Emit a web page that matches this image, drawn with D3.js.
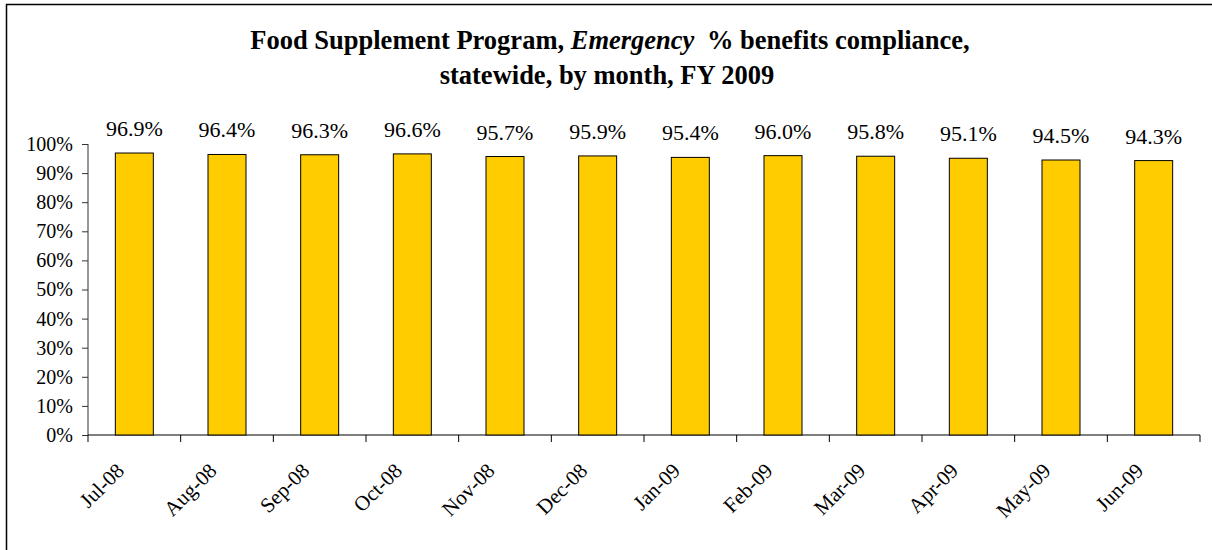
<!DOCTYPE html>
<html>
<head>
<meta charset="utf-8">
<script src="https://cdn.jsdelivr.net/npm/d3@7"></script>
<style>
  body { margin: 0; background: #fff; }
  text { font-family: "Liberation Serif", "Times New Roman", serif; }
</style>
</head>
<body>
<div id="chart-container"></div>
<script>
const months = ["Jul-08", "Aug-08", "Sep-08", "Oct-08", "Nov-08", "Dec-08",
                "Jan-09", "Feb-09", "Mar-09", "Apr-09", "May-09", "Jun-09"];
const compliance = [96.9, 96.4, 96.3, 96.6, 95.7, 95.9, 95.4, 96.0, 95.8, 95.1, 94.5, 94.3];
const yTicks = [0, 10, 20, 30, 40, 50, 60, 70, 80, 90, 100];

const svgWidth = 1212;
const svgHeight = 550;
const margin = { top: 144, right: 12, bottom: 115, left: 88 };
const width = svgWidth - margin.left - margin.right;
const height = svgHeight - margin.top - margin.bottom;

const svg = d3.select("#chart-container")
    .append("svg")
    .attr("width", svgWidth)
    .attr("height", svgHeight);

// outer frame (right and bottom edges run off the picture)
svg.append("rect")
    .attr("x", 6.5).attr("y", 4.5)
    .attr("width", 1250).attr("height", 600)
    .attr("fill", "none")
    .attr("stroke", "#000")
    .attr("stroke-width", 1.5);

// title
const title = svg.append("text")
    .attr("text-anchor", "middle")
    .attr("font-size", "26.5px")
    .attr("font-weight", "bold");
const line1 = title.append("tspan").attr("x", 610).attr("y", 49);
line1.append("tspan").text("Food Supplement Program, ");
line1.append("tspan").attr("font-style", "italic").text("Emergency");
line1.append("tspan").attr("dx", 6).text(" % benefits compliance,");
title.append("tspan").attr("x", 607).attr("y", 84).text("statewide, by month, FY 2009");

const chart = svg.append("g")
    .attr("transform", `translate(${margin.left},${margin.top})`);

const scaleX = d3.scaleBand()
    .domain(months)
    .range([0, width])
    .paddingInner(0.59)
    .paddingOuter(0.295);

const scaleY = d3.scaleLinear()
    .domain([0, 100])
    .range([height, 0]);

// y axis
const yAxis = chart.append("g")
    .call(d3.axisLeft(scaleY).tickValues(yTicks).tickSize(6).tickPadding(9)
        .tickFormat(d => d + "%"));
yAxis.select(".domain").attr("d", `M0,0V${height}`).attr("stroke", "#333");
yAxis.selectAll(".tick line").attr("stroke", "#333");
yAxis.selectAll("text").attr("font-size", "20px").attr("font-family", "Liberation Serif, serif");

// x axis: ticks between categories
const xAxis = chart.append("g").attr("transform", `translate(0,${height})`);
xAxis.append("line")
    .attr("x1", 0).attr("x2", width)
    .attr("stroke", "#000");
xAxis.selectAll(".xtick")
    .data(d3.range(months.length + 1))
    .enter()
    .append("line")
    .attr("class", "xtick")
    .attr("x1", i => i * scaleX.step())
    .attr("x2", i => i * scaleX.step())
    .attr("y1", 0).attr("y2", 7)
    .attr("stroke", "#000");
xAxis.selectAll(".xlabel")
    .data(months)
    .enter()
    .append("text")
    .attr("class", "xlabel")
    .attr("text-anchor", "end")
    .attr("font-size", "21px")
    .attr("transform", d => `translate(${scaleX(d) + scaleX.bandwidth() / 2 - 9},${37}) rotate(-45)`)
    .text(d => d);

// bars
chart.selectAll(".bar")
    .data(compliance)
    .enter()
    .append("rect")
    .attr("class", "bar")
    .attr("x", (d, i) => scaleX(months[i]))
    .attr("y", d => scaleY(d))
    .attr("width", scaleX.bandwidth())
    .attr("height", d => height - scaleY(d))
    .attr("fill", "#FFCC00")
    .attr("stroke", "#000")
    .attr("stroke-width", 1);

// value labels
chart.selectAll(".val")
    .data(compliance)
    .enter()
    .append("text")
    .attr("class", "val")
    .attr("x", (d, i) => scaleX(months[i]) + scaleX.bandwidth() / 2)
    .attr("y", d => scaleY(d) - 17)
    .attr("text-anchor", "middle")
    .attr("font-size", "22px")
    .text(d => d.toFixed(1) + "%");
</script>
</body>
</html>
